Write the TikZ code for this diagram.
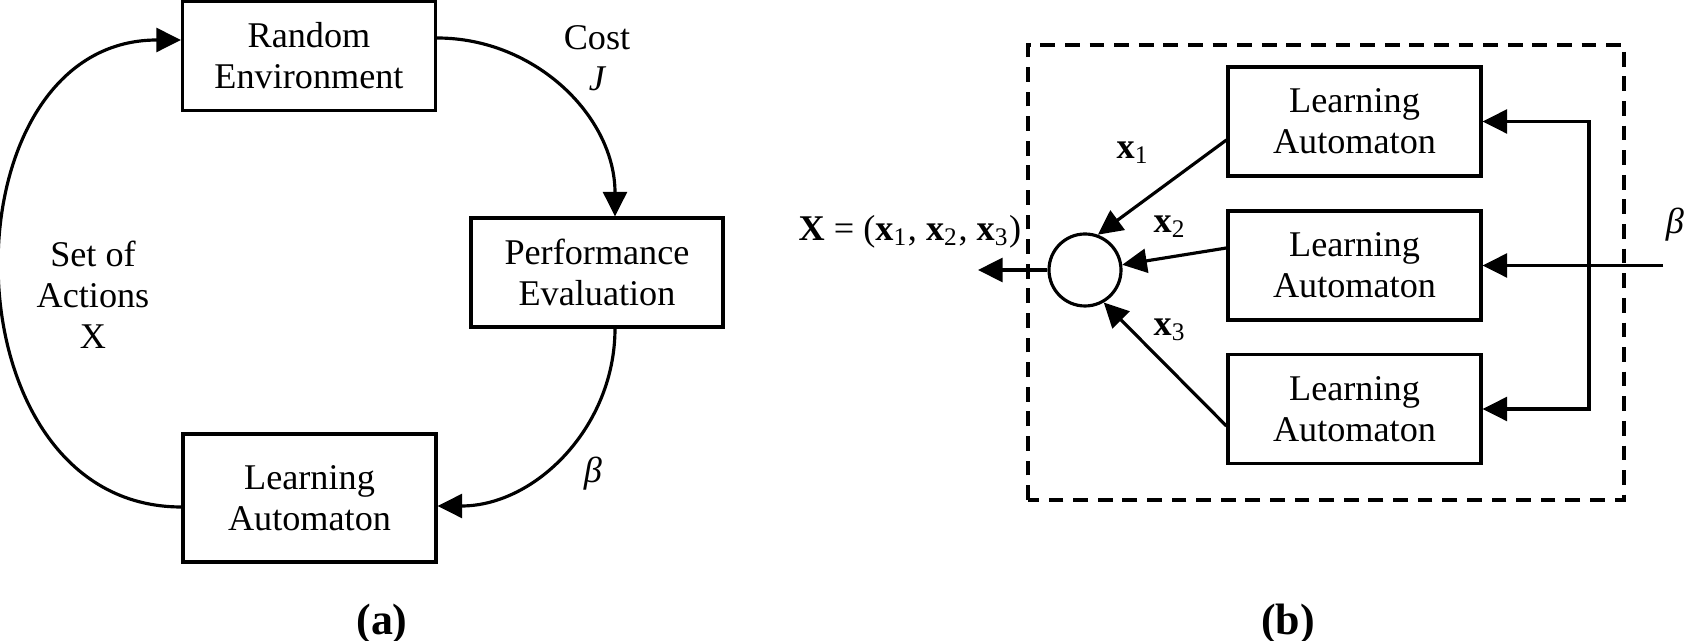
\documentclass[tikz,border=0pt]{standalone}
\usepackage{fontspec}
\setmainfont{Liberation Serif}
\usetikzlibrary{arrows.meta}

\begin{document}
\begin{tikzpicture}[
	font=\fontsize{10.3}{11.7}\selectfont,
	line width=0.9pt,
	>={Triangle[length=7pt, width=6.8pt]},
	block/.style={draw, align=center, minimum width=2.53cm, minimum height=1.09cm, inner sep=0pt},
	sumnode/.style={draw, circle, minimum size=0.72cm, inner sep=0pt},
	caption/.style={font=\fontsize{12.5}{14}\selectfont\bfseries}]
	\useasboundingbox (0, 0) rectangle (16.85, 6.41);

	% (a) feedback loop
	\node [block] (env) at (3.09, 5.85) {Random\\Environment};
	\node [block, minimum width=2.52cm] (perf) at (5.97, 3.685) {Performance\\Evaluation};
	\node [block, minimum height=1.28cm] (la) at (3.095, 1.43) {Learning\\Automaton};
	\draw [->] ([yshift=0.18cm]env.east) .. controls +(0.99, 0) and +(0, 0.99) .. ([xshift=0.18cm]perf.north);
	\draw [->] ([xshift=0.18cm]perf.south) .. controls +(0, -0.98) and +(0.98, 0) .. ([yshift=-0.08cm]la.east);
	\draw [->] ([yshift=-0.09cm]la.west) .. controls +(-2.4, 0) and +(-2.4, 0) .. ([yshift=0.16cm]env.west);
	\node [align=center] (cost) at (5.97, 5.83) {Cost\\{\itshape J}};
	\node (betaa) at (5.93, 1.67) {\itshape β};
	\node [align=center] (actions) at (0.93, 3.46) {Set of\\Actions\\X};
	\node [caption] (capa) at (3.82, 0.17) {(a)};

	% (b) team of automata
	\draw [dash pattern=on 4.2pt off 2.8pt] (10.28, 1.41) rectangle (16.24, 5.96);
	\node [block] (la1) at (13.545, 5.195) {Learning\\Automaton};
	\node [block] (la2) at (13.545, 3.755) {Learning\\Automaton};
	\node [block] (la3) at (13.545, 2.32) {Learning\\Automaton};
	\node [sumnode] (sum) at (10.85, 3.71) {};
	\coordinate (out) at (9.78, 3.71);
	\draw [->] (sum) -- (out);
	\node (xvec) at (9.10, 4.09) {\textbf{X} = (\textbf{x}\textsubscript{1}, \textbf{x}\textsubscript{2}, \textbf{x}\textsubscript{3})};
	\draw [->] ([yshift=-0.185cm]la1.west) -- (sum.70);
	\draw [->] ([yshift=0.175cm]la2.west) -- (sum.8);
	\draw [->] ([yshift=-0.17cm]la3.west) -- (sum.-60);
	\node (x1) at (11.33, 4.88) {\textbf{x}\textsubscript{1}};
	\node (x2) at (11.70, 4.14) {\textbf{x}\textsubscript{2}};
	\node (x3) at (11.70, 3.11) {\textbf{x}\textsubscript{3}};
	\coordinate (fbtop) at (15.89, 5.195);
	\coordinate (fbbot) at (15.89, 2.32);
	\coordinate (betain) at (16.63, 3.755);
	\draw [<->] (la1.east) -- (fbtop) -- (fbbot) -- (la3.east);
	\draw [->] (betain) -- (la2.east);
	\node (betab) at (16.75, 4.16) {\itshape β};
	\node [caption] (capb) at (12.88, 0.17) {(b)};
\end{tikzpicture}
\end{document}
